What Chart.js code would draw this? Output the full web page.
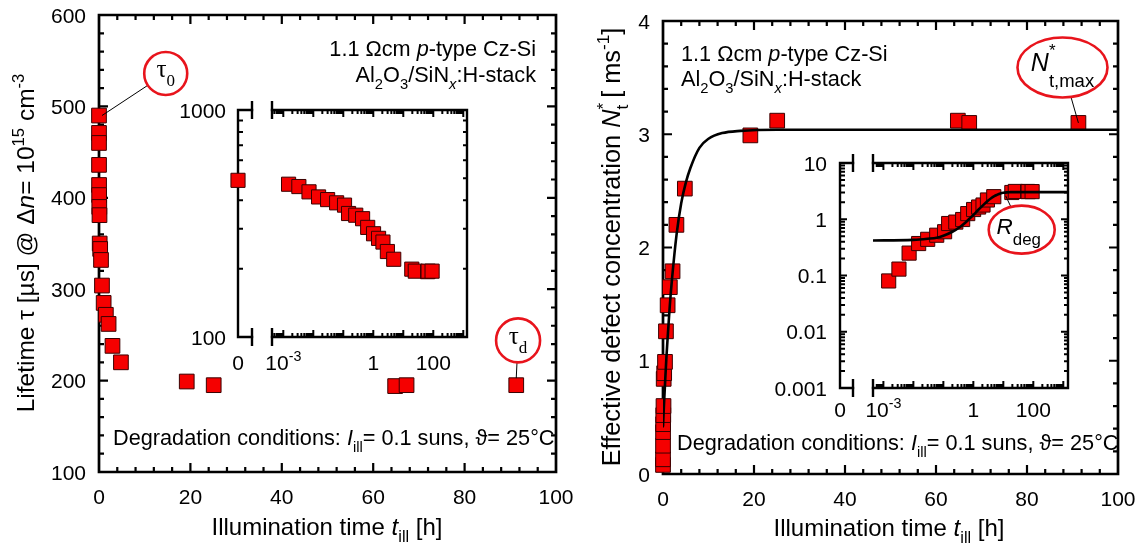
<!DOCTYPE html>
<html>
<head>
<meta charset="utf-8">
<script src="https://cdn.jsdelivr.net/npm/chart.js@4.4.0/dist/chart.umd.min.js"></script>
<style>
  body { margin: 0; background: #fff; }
  #wrap { position: relative; width: 1141px; height: 549px; overflow: hidden; }
  #wrap canvas { position: absolute; left: 0; top: 0; }
</style>
</head>
<body>
<div id="wrap">
  <canvas id="lifeMain"></canvas>
  <canvas id="concMain"></canvas>
  <canvas id="lifeZero"></canvas>
  <canvas id="lifeLog"></canvas>
  <canvas id="concZero"></canvas>
  <canvas id="concLog"></canvas>
</div>
<script>
// illumination time [h], first entry is the undegraded state
var illumTime = [0, 0.0015, 0.0033, 0.0072, 0.015, 0.03, 0.06, 0.11, 0.15, 0.26, 0.44, 0.65, 1.02, 1.5, 2.1, 2.95, 4.8, 19.2, 25.1, 64.8, 67.3, 91.3];
// lifetime [us] at dn = 1e15 cm^-3
var lifetime = [490, 471, 460, 436, 414, 403, 390, 381, 350, 344, 332, 304, 285, 272, 262, 238, 220, 199, 195, 194, 195, 195];
// effective defect concentration [1/ms]
var defectConc = [null, 0.08, 0.13, 0.25, 0.37, 0.44, 0.52, 0.6, 0.84, 0.89, 0.99, 1.26, 1.49, 1.65, 1.79, 2.2, 2.52, 2.99, 3.12, 3.12, 3.1, 3.1];
// fitted degradation curve
var fitTime = [0, 0.0004, 0.01, 0.03, 0.06, 0.1, 0.2, 0.35, 0.5, 0.75, 1, 1.5, 2, 3, 4, 5, 6, 8, 10, 13, 17, 25, 100, 2000];
var fitConc = [0.42, 0.42, 0.43, 0.45, 0.47, 0.51, 0.6, 0.72, 0.84, 1.03, 1.19, 1.49, 1.73, 2.12, 2.39, 2.57, 2.7, 2.88, 2.96, 3.01, 3.03, 3.04, 3.04, 3.04];

var timeTicks = [0, 20, 40, 60, 80, 100];
var lifeTicks = [100, 200, 300, 400, 500, 600];
var concTicks = [0, 1, 2, 3, 4];
var insetLifeTicks = [100, 1000];
var insetConcTicks = [0.001, 0.01, 0.1, 1, 10];
var insetConcLabels = ['0.001', '0.01', '0.1', '1', '10'];
var insetTimeTicks = [0.001, 1, 100];

var SANS = '"Liberation Sans", Arial, Helvetica, sans-serif';
var SERIF = '"Liberation Serif", "Times New Roman", serif';
var RED = '#e8141c';
var TICK_FONT = 21;
var NOTE_FONT = 21.7;
var SUB = { s: 0.68, dy: 0.3 };
var SUP = { s: 0.68, dy: -0.42 };

function pts(xs, ys) {
  var out = [];
  for (var i = 0; i < xs.length; i++) {
    if (ys[i] == null) continue;
    out.push({ x: xs[i], y: ys[i] });
  }
  return out;
}
function positive(list) {
  return list.filter(function (p) { return p.x > 0; });
}

// text made of runs: [text, {i: italic, s: size factor, dy: shift in em, z: no advance, f: family}]
function rich(ctx, parts, x, y, size, align, family) {
  var fam = family || SANS, w = 0, runs = [];
  parts.forEach(function (p) {
    var o = p[1] || {};
    var f = (o.i ? 'italic ' : '') + (size * (o.s || 1)) + 'px ' + (o.f || fam);
    ctx.font = f;
    var pw = ctx.measureText(p[0]).width;
    runs.push({ t: p[0], f: f, dx: w, dy: (o.dy || 0) * size });
    if (!o.z) w += pw;
  });
  var x0 = align === 'center' ? x - w / 2 : align === 'right' ? x - w : x;
  ctx.textAlign = 'left';
  ctx.textBaseline = 'alphabetic';
  ctx.fillStyle = '#000';
  runs.forEach(function (r) {
    ctx.font = r.f;
    ctx.fillText(r.t, x0 + r.dx, y + r.dy);
  });
}
function vrich(ctx, parts, x, y, size) {
  ctx.save();
  ctx.translate(x, y);
  ctx.rotate(-Math.PI / 2);
  rich(ctx, parts, 0, 0, size, 'center');
  ctx.restore();
}

function linTicks(lo, hi, step) {
  var out = [], n = Math.round((hi - lo) / step);
  for (var i = 0; i <= n; i++) out.push(+(lo + i * step).toFixed(6));
  return out;
}
function logTicks(lo, hi) {
  var major = [], minor = [];
  for (var k = Math.floor(Math.log10(lo)); k <= Math.ceil(Math.log10(hi)); k++) {
    for (var m = 1; m < 10; m++) {
      var v = m * Math.pow(10, k);
      if (v < lo || v > hi) continue;
      (m === 1 ? major : minor).push(v);
    }
  }
  return { major: major, minor: minor };
}

function drawFrame(c, o) {
  var ctx = c.ctx, a = c.chartArea, sx = c.scales.x, sy = c.scales.y;
  ctx.save();
  ctx.strokeStyle = '#000';
  ctx.lineWidth = o.lw;
  ctx.lineCap = 'square';
  ctx.beginPath();
  if (o.sides.indexOf('t') >= 0) { ctx.moveTo(a.left, a.top); ctx.lineTo(a.right, a.top); }
  if (o.sides.indexOf('b') >= 0) { ctx.moveTo(a.left, a.bottom); ctx.lineTo(a.right, a.bottom); }
  if (o.sides.indexOf('l') >= 0) { ctx.moveTo(a.left, a.top); ctx.lineTo(a.left, a.bottom); }
  if (o.sides.indexOf('r') >= 0) { ctx.moveTo(a.right, a.top); ctx.lineTo(a.right, a.bottom); }
  ctx.stroke();
  ctx.lineCap = 'butt';
  ctx.lineWidth = o.tw;
  ctx.beginPath();
  [[o.xMajor, o.big], [o.xMinor, o.small]].forEach(function (g) {
    (g[0] || []).forEach(function (v) {
      var p = sx.getPixelForValue(v);
      if (p < a.left + 2 || p > a.right - 2) return;
      if (o.xSides.indexOf('b') >= 0) { ctx.moveTo(p, a.bottom); ctx.lineTo(p, a.bottom - g[1]); }
      if (o.xSides.indexOf('t') >= 0) { ctx.moveTo(p, a.top); ctx.lineTo(p, a.top + g[1]); }
    });
  });
  [[o.yMajor, o.big], [o.yMinor, o.small]].forEach(function (g) {
    (g[0] || []).forEach(function (v) {
      var p = sy.getPixelForValue(v);
      if (p < a.top + 2 || p > a.bottom - 2) return;
      if (o.ySides.indexOf('l') >= 0) { ctx.moveTo(a.left, p); ctx.lineTo(a.left + g[1], p); }
      if (o.ySides.indexOf('r') >= 0) { ctx.moveTo(a.right, p); ctx.lineTo(a.right - g[1], p); }
    });
  });
  ctx.stroke();
  if (o.breakAt) {
    var bx = o.breakAt === 'r' ? a.right : a.left;
    ctx.lineWidth = o.lw;
    ctx.beginPath();
    ctx.moveTo(bx, a.top - 9); ctx.lineTo(bx, a.top + 9);
    ctx.moveTo(bx, a.bottom - 9); ctx.lineTo(bx, a.bottom + 9);
    ctx.stroke();
  }
  ctx.restore();
}

// red ring around a label, with a thin leader to the marked point
function callout(ctx, cx, cy, rx, ry, px, py) {
  ctx.save();
  if (px != null) {
    var dx = px - cx, dy = py - cy;
    var t = 1 / Math.sqrt((dx / rx) * (dx / rx) + (dy / ry) * (dy / ry));
    ctx.strokeStyle = '#000';
    ctx.lineWidth = 1;
    ctx.beginPath();
    ctx.moveTo(cx + dx * t, cy + dy * t);
    ctx.lineTo(px, py);
    ctx.stroke();
  }
  ctx.strokeStyle = RED;
  ctx.lineWidth = 2.6;
  ctx.beginPath();
  ctx.ellipse(cx, cy, rx, ry, 0, 0, 2 * Math.PI);
  ctx.stroke();
  ctx.restore();
}

function makeChart(id, area, scales, datasets, under, over) {
  var cv = document.getElementById(id);
  cv.width = 1141;
  cv.height = 549;
  return new Chart(cv, {
    type: 'scatter',
    data: { datasets: datasets },
    options: {
      responsive: false,
      animation: false,
      devicePixelRatio: 1,
      events: [],
      layout: { padding: { left: area[0], top: area[1], right: 1141 - area[2], bottom: 549 - area[3] } },
      scales: {
        x: Object.assign({ display: false }, scales.x),
        y: Object.assign({ display: false }, scales.y)
      },
      plugins: { legend: { display: false }, tooltip: { enabled: false } }
    },
    plugins: [{
      id: 'frame',
      beforeDatasetsDraw: function (c) { if (under) under(c); },
      afterDraw: function (c) { if (over) over(c); }
    }]
  });
}

function squares(data, r) {
  return {
    data: data,
    pointStyle: 'rect',
    pointRadius: r,
    backgroundColor: '#f50000',
    borderColor: '#3b0000',
    borderWidth: 1,
    clip: false
  };
}
function fitLine(data) {
  return {
    data: data,
    showLine: true,
    pointRadius: 0,
    borderColor: '#000',
    borderWidth: 2.6,
    cubicInterpolationMode: 'monotone',
    fill: false
  };
}

var xTitle = [['Illumination time '], ['t', { i: 1 }], ['ill', SUB], [' [h]']];
var degText = [['Degradation conditions: '], ['I', { i: 1 }], ['ill', SUB], ['= 0.1 suns, \u03d1= 25\u00b0C']];
var sampleLine1 = [['1.1 \u03a9cm '], ['p', { i: 1 }], ['-type Cz-Si']];
var sampleLine2 = [['Al'], ['2', SUB], ['O'], ['3', SUB], ['/SiN'], ['x', { i: 1, s: 0.68, dy: 0.3 }], [':H-stack']];

var lifeData = pts(illumTime, lifetime);
var concData = pts(illumTime, defectConc);
var fitData = pts(fitTime, fitConc);

// ---- lifetime vs time ----
makeChart('lifeMain', [99, 15, 556, 472],
  { x: { type: 'linear', min: 0, max: 100 }, y: { type: 'linear', min: 100, max: 600 } },
  [squares(lifeData, 10.4)],
  function (c) {
    drawFrame(c, { lw: 2.7, tw: 2.2, big: 9, small: 5, sides: 'tblr', xSides: 'tb', ySides: 'lr',
      xMajor: timeTicks, xMinor: linTicks(0, 100, 4), yMajor: lifeTicks, yMinor: linTicks(100, 600, 20) });
  },
  function (c) {
    var ctx = c.ctx, a = c.chartArea, sx = c.scales.x, sy = c.scales.y;
    lifeTicks.forEach(function (v) { rich(ctx, [[String(v)]], a.left - 13, sy.getPixelForValue(v) + 7.5, TICK_FONT, 'right'); });
    timeTicks.forEach(function (v) { rich(ctx, [[String(v)]], sx.getPixelForValue(v), a.bottom + 32, TICK_FONT, 'center'); });
    rich(ctx, xTitle, 327, 535, 24, 'center');
    vrich(ctx, [['Lifetime \u03c4 [\u00b5s] @ \u0394'], ['n', { i: 1 }], ['= 10'], ['15', SUP], [' cm'], ['-3', SUP]], 34, 243, 24.5);
    rich(ctx, sampleLine1, 536, 56, NOTE_FONT, 'right');
    rich(ctx, sampleLine2, 536, 82, NOTE_FONT, 'right');
    rich(ctx, degText, 113, 445, NOTE_FONT, 'left');
    var p0 = lifeData[0], pd = lifeData[lifeData.length - 1];
    var cx = sx.getPixelForValue(14.6), cy = sy.getPixelForValue(536);
    callout(ctx, cx, cy, 21.5, 21.5, sx.getPixelForValue(p0.x) + 3, sy.getPixelForValue(p0.y));
    rich(ctx, [['\u03c4'], ['0', { s: 0.68, dy: 0.36 }]], cx, cy + 4, 25, 'center', SERIF);
    cx = sx.getPixelForValue(91.7); cy = sy.getPixelForValue(244);
    callout(ctx, cx, cy, 22, 22, sx.getPixelForValue(pd.x), sy.getPixelForValue(pd.y) - 7);
    rich(ctx, [['\u03c4'], ['d', { s: 0.68, dy: 0.36 }]], cx, cy + 4, 25, 'center', SERIF);
  });

// ---- defect concentration vs time ----
makeChart('concMain', [663, 21, 1118, 474],
  { x: { type: 'linear', min: 0, max: 100 }, y: { type: 'linear', min: 0, max: 4 } },
  [fitLine(fitData), squares(concData, 10.4)],
  function (c) {
    drawFrame(c, { lw: 2.7, tw: 2.2, big: 9, small: 5, sides: 'tblr', xSides: 'tb', ySides: 'lr',
      xMajor: timeTicks, xMinor: linTicks(0, 100, 4), yMajor: concTicks, yMinor: linTicks(0, 4, 0.2) });
  },
  function (c) {
    var ctx = c.ctx, a = c.chartArea, sx = c.scales.x, sy = c.scales.y;
    concTicks.forEach(function (v) { rich(ctx, [[String(v)]], a.left - 13, sy.getPixelForValue(v) + 7.5, TICK_FONT, 'right'); });
    timeTicks.forEach(function (v) { rich(ctx, [[String(v)]], sx.getPixelForValue(v), a.bottom + 32, TICK_FONT, 'center'); });
    rich(ctx, xTitle, 889, 536, 24, 'center');
    vrich(ctx, [['Effective defect concentration '], ['N', { i: 1 }], ['*', { s: 0.68, dy: -0.45, z: 1 }], ['t', SUB],
      [' [ ms'], ['-1', SUP], [']']], 620, 247, 25.3);
    rich(ctx, sampleLine1, 681, 61, NOTE_FONT, 'left');
    rich(ctx, sampleLine2, 681, 86, NOTE_FONT, 'left');
    rich(ctx, degText, 677, 450, NOTE_FONT, 'left');
    var last = concData[concData.length - 1];
    var cx = sx.getPixelForValue(87.8), cy = sy.getPixelForValue(3.59);
    callout(ctx, cx, cy, 45, 30, sx.getPixelForValue(last.x), sy.getPixelForValue(last.y));
    rich(ctx, [['N', { i: 1 }], ['*', { s: 0.68, dy: -0.6, z: 1 }], ['t,max', { s: 0.74, dy: 0.62 }]], cx, cy + 4, 25, 'center');
  });

// ---- inset: lifetime, t = 0 segment ----
var lifeLogY = logTicks(100, 1000);
makeChart('lifeZero', [238, 110, 252, 337],
  { x: { type: 'linear', min: 0, max: 1 }, y: { type: 'logarithmic', min: 100, max: 1000 } },
  [squares([lifeData[0]], 10)],
  function (c) {
    drawFrame(c, { lw: 2.4, tw: 2, big: 7, small: 5, sides: 'tbl', xSides: '', ySides: 'l',
      yMajor: lifeLogY.major, yMinor: lifeLogY.minor, breakAt: 'r' });
  },
  function (c) {
    var ctx = c.ctx, a = c.chartArea, sy = c.scales.y;
    insetLifeTicks.forEach(function (v) { rich(ctx, [[String(v)]], a.left - 12, sy.getPixelForValue(v) + 7.5, TICK_FONT, 'right'); });
    rich(ctx, [['0']], a.left, a.bottom + 33, TICK_FONT, 'center');
  });

// ---- inset: lifetime, log time ----
var lifeLogX = logTicks(4.2e-4, 1330);
makeChart('lifeLog', [272, 110, 467, 337],
  { x: { type: 'logarithmic', min: 4.2e-4, max: 1330 }, y: { type: 'logarithmic', min: 100, max: 1000 } },
  [squares(positive(lifeData), 10)],
  function (c) {
    drawFrame(c, { lw: 2.4, tw: 2, big: 7, small: 4, sides: 'tbr', xSides: 'tb', ySides: 'r',
      xMajor: lifeLogX.major, xMinor: lifeLogX.minor, yMajor: lifeLogY.major, yMinor: lifeLogY.minor, breakAt: 'l' });
  },
  function (c) {
    var ctx = c.ctx, a = c.chartArea, sx = c.scales.x;
    insetTimeTicks.forEach(function (v) {
      var parts = v < 0.01 ? [['10'], [String(Math.round(Math.log10(v))), SUP]] : [[String(v)]];
      rich(ctx, parts, sx.getPixelForValue(v), a.bottom + 33, TICK_FONT, 'center');
    });
  });

// ---- inset: defect concentration, t = 0 segment ----
var concLogY = logTicks(0.001, 10);
makeChart('concZero', [840, 163, 853, 388],
  { x: { type: 'linear', min: 0, max: 1 }, y: { type: 'logarithmic', min: 0.001, max: 10 } },
  [],
  function (c) {
    drawFrame(c, { lw: 2.4, tw: 2, big: 7, small: 5, sides: 'tbl', xSides: '', ySides: 'l',
      yMajor: concLogY.major, yMinor: concLogY.minor, breakAt: 'r' });
  },
  function (c) {
    var ctx = c.ctx, a = c.chartArea, sy = c.scales.y;
    insetConcTicks.forEach(function (v, i) { rich(ctx, [[insetConcLabels[i]]], a.left - 13, sy.getPixelForValue(v) + 7.5, TICK_FONT, 'right'); });
    rich(ctx, [['0']], a.left, a.bottom + 29, TICK_FONT, 'center');
  });

// ---- inset: defect concentration, log time ----
var concLogX = logTicks(4.5e-4, 1435);
makeChart('concLog', [873, 163, 1068, 388],
  { x: { type: 'logarithmic', min: 4.5e-4, max: 1435 }, y: { type: 'logarithmic', min: 0.001, max: 10 } },
  [fitLine(positive(fitData)), squares(positive(concData), 10)],
  function (c) {
    drawFrame(c, { lw: 2.4, tw: 2, big: 7, small: 4, sides: 'tbr', xSides: 'tb', ySides: 'r',
      xMajor: concLogX.major, xMinor: concLogX.minor, yMajor: concLogY.major, yMinor: concLogY.minor, breakAt: 'l' });
  },
  function (c) {
    var ctx = c.ctx, a = c.chartArea, sx = c.scales.x, sy = c.scales.y;
    insetTimeTicks.forEach(function (v) {
      var parts = v < 0.01 ? [['10'], [String(Math.round(Math.log10(v))), SUP]] : [[String(v)]];
      rich(ctx, parts, sx.getPixelForValue(v), a.bottom + 29, TICK_FONT, 'center');
    });
    var cx = sx.getPixelForValue(41), cy = sy.getPixelForValue(0.653);
    callout(ctx, cx, cy, 33, 24, sx.getPixelForValue(12), sy.getPixelForValue(2.6));
    rich(ctx, [['R', { i: 1 }], ['deg', { s: 0.75, dy: 0.5 }]], cx - 3, cy + 4, 22.5, 'center');
  });
</script>
</body>
</html>
